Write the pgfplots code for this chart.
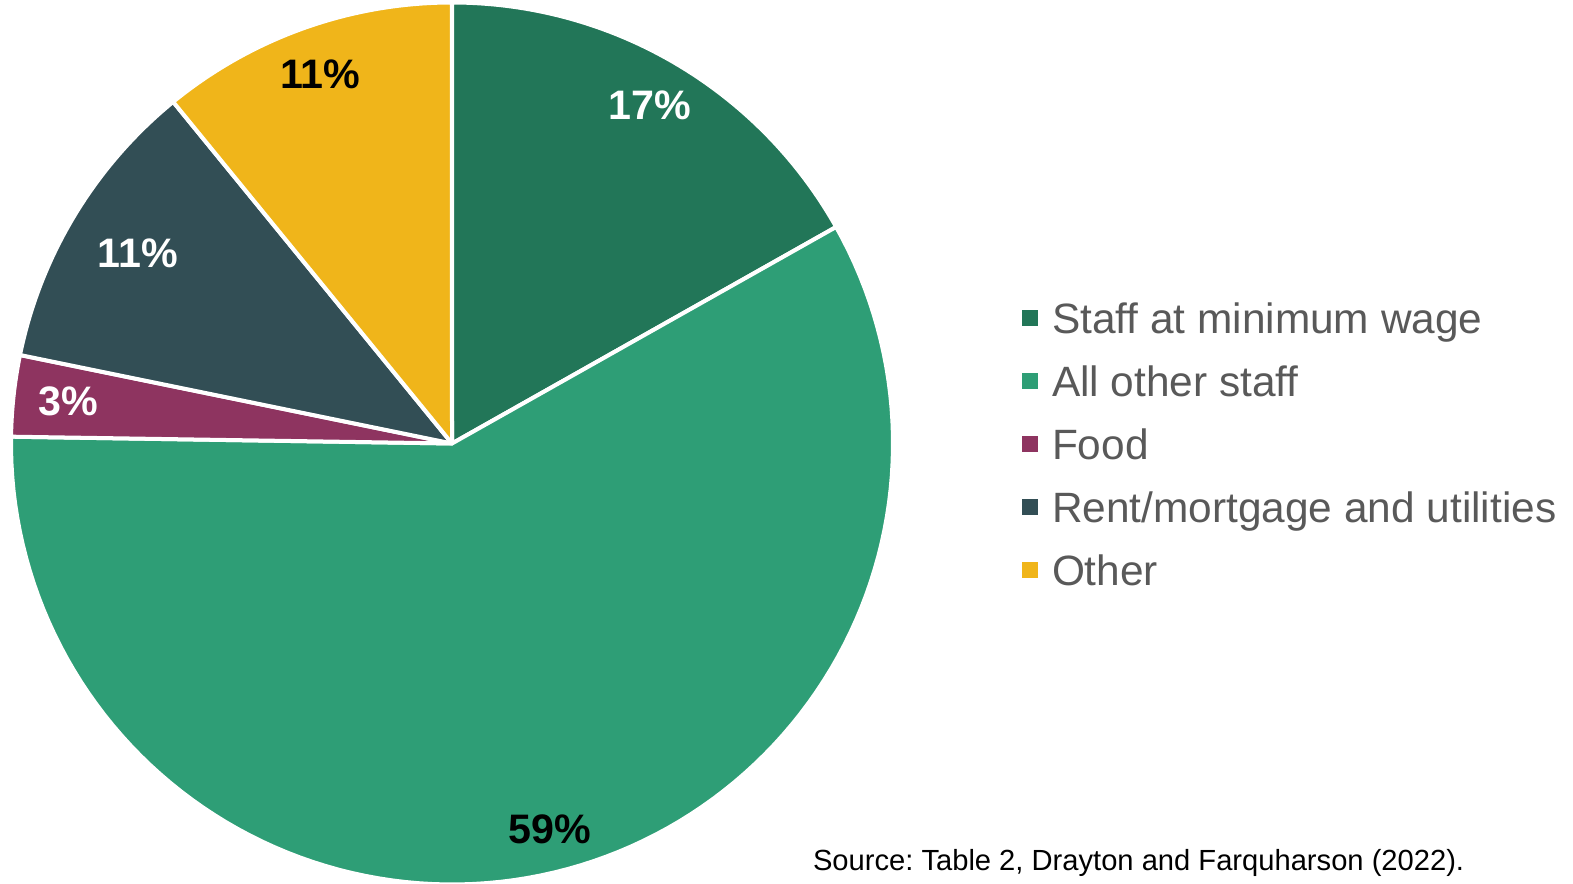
\documentclass[border=0pt]{standalone}
\usepackage{fontspec}
\setmainfont{Liberation Sans}
\usepackage{pgfplots}
\pgfplotsset{compat=1.18}
\frenchspacing

\definecolor{minwage}{HTML}{227658}
\definecolor{otherstaff}{HTML}{2E9E76}
\definecolor{food}{HTML}{8E3460}
\definecolor{rent}{HTML}{324E55}
\definecolor{othercost}{HTML}{F0B51A}
\definecolor{legendgrey}{HTML}{595959}

% shares are in per cent; slices run clockwise from twelve o'clock
\def\pietotal{101}
\def\pieangle{90}

% #1 colour, #2 share, #3 label radius, #4 label colour, #5 legend text
\newcommand\pieslice[5]{%
  \pgfmathsetmacro\slicestart{\pieangle}%
  \pgfmathsetmacro\sliceend{\pieangle-(#2/\pietotal)*360}%
  \pgfmathsetmacro\slicemid{(\slicestart+\sliceend)/2}%
  \pgfmathsetmacro\lblx{#3*cos(\slicemid)}%
  \pgfmathsetmacro\lbly{#3*sin(\slicemid)}%
  \addplot[fill=#1, draw=white, line width=2pt, line join=round,
           domain=\sliceend:\slicestart, samples=120, variable=\t]
    ({cos(\t)}, {sin(\t)}) -- (axis cs:0,0) -- cycle;
  \addlegendentry{#5}
  \edef\slicelabel{\noexpand\node[pielabel, text=#4] at (axis cs:\lblx,\lbly) {#2\noexpand\%};}%
  \slicelabel
  \global\let\pieangle\sliceend
}

\begin{document}
\begin{tikzpicture}[
  pielabel/.style={font=\fontsize{20.6pt}{24pt}\selectfont\bfseries, inner sep=0pt}]
\useasboundingbox (0,0) rectangle (786.5pt,441.5pt);
\begin{axis}[
  hide axis, clip=false,
  x=220.5pt, y=220.5pt,
  xmin=-1, xmax=1, ymin=-1, ymax=1,
  at={(226pt,219.75pt)}, anchor=origin,
  legend cell align=left,
  legend image code/.code={\fill[#1, draw=none] (0pt,3.6pt) rectangle (8pt,11.6pt);},
  legend style={at={(axis cs:1.2925,0.3213)}, anchor=north west,
    draw=none, fill=none, inner sep=0pt, outer sep=0pt,
    row sep=0pt, column sep=7pt,
    font=\fontsize{21.2pt}{25pt}\selectfont, text=legendgrey,
    nodes={inner sep=0pt, outer sep=0pt, text height=15.74pt, text depth=15.74pt}},
]
\pieslice{minwage}{17}{0.889}{white}{Staff at minimum wage}
\pieslice{otherstaff}{59}{0.902}{black}{All other staff}
\pieslice{food}{3}{0.875}{white}{Food}
\pieslice{rent}{11}{0.833}{white}{Rent/mortgage and utilities}
\pieslice{othercost}{11}{0.889}{black}{Other}
\end{axis}
\node[anchor=base west, inner sep=0pt, font=\fontsize{14.57pt}{17pt}\selectfont]
  at (406.3pt,6.5pt) {Source: Table 2, Drayton and Farquharson (2022).};
\end{tikzpicture}
\end{document}
